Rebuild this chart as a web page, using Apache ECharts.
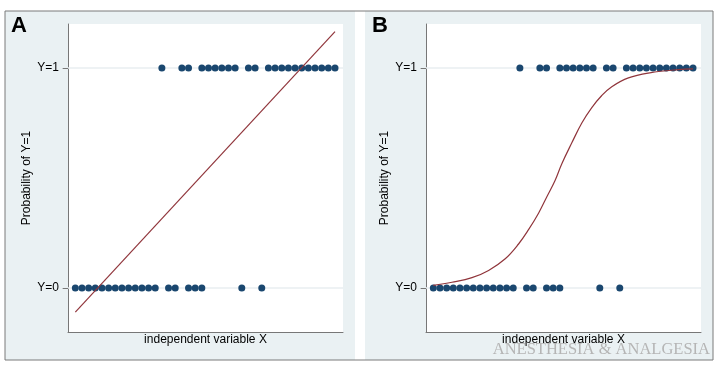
<!DOCTYPE html>
<html>
<head>
<meta charset="utf-8">
<script src="https://cdn.jsdelivr.net/npm/echarts@6/dist/echarts.min.js"></script>
<style>
html,body{margin:0;padding:0;background:#fff;}
#c{width:724px;height:373px;}
</style>
</head>
<body>
<div id="c"></div>
<script>
var xY0 = [1,2,3,4,5,6,7,8,9,10,11,12,13,15,16,18,19,20,26,29];
var xY1 = [14,17,18,20,21,22,23,24,25,27,28,30,31,32,33,34,35,36,37,38,39,40];
// Panel A: linear probability fit (endpoints)
var linX = [1, 40];
var linY = [-0.11, 1.165];
// Panel B: logistic fit curve
var logX = [1, 3.8, 6.8, 9.3, 11.8, 13.8, 15.3, 16.8, 18.05, 19.3, 20.3, 21.8, 23.3, 24.8, 26.3, 27.8, 30.3, 33.5, 37.8, 40];
var logY = [0.012, 0.026, 0.047, 0.08, 0.133, 0.2, 0.265, 0.34, 0.415, 0.49, 0.565, 0.66, 0.75, 0.82, 0.875, 0.915, 0.955, 0.978, 0.993, 0.996];
var yTicks = [0, 1];
var yTickLabels = ['Y=0', 'Y=1'];
var xTitle = 'independent variable X';
var yTitle = 'Probability of Y=1';

function pairs(xs, ys) { return xs.map(function (x, i) { return [x, ys[i]]; }); }
function level(xs, v) { return xs.map(function (x) { return [x, v]; }); }

var FONT = 'Liberation Sans, Arial, Helvetica, sans-serif';
var NAVY = '#1a476f';
var MAROON = '#90353b';
var AXIS = '#777777';

function xAxisCfg(idx) {
  return {
    gridIndex: idx, type: 'value', min: -0.1, max: 41.2,
    name: xTitle, nameLocation: 'middle', nameGap: 2,
    nameTextStyle: { fontFamily: FONT, fontSize: 12, color: '#000', verticalAlign: 'top' },
    axisLine: { show: true, onZero: false, lineStyle: { color: AXIS, width: 1 } },
    axisTick: { show: false }, axisLabel: { show: false }, splitLine: { show: false }
  };
}
function yAxisCfg(idx) {
  return {
    gridIndex: idx, type: 'value', min: -0.2, max: 1.2, interval: 0.2,
    name: yTitle, nameLocation: 'middle', nameGap: 35,
    nameTextStyle: { fontFamily: FONT, fontSize: 12, color: '#000' },
    axisLine: { show: true, lineStyle: { color: AXIS, width: 1 } },
    axisTick: { show: true, length: 6, customValues: yTicks, lineStyle: { color: AXIS, width: 1 } },
    axisLabel: {
      show: true, customValues: yTicks, margin: 9, fontFamily: FONT, fontSize: 12, color: '#000',
      formatter: function (v) { var i = yTicks.indexOf(Math.round(v * 1000) / 1000); return i >= 0 ? yTickLabels[i] : ''; }
    },
    splitLine: { show: false }
  };
}
function gridLines(idx) {
  return {
    type: 'line', xAxisIndex: idx, yAxisIndex: idx, data: [], silent: true,
    markLine: {
      silent: true, symbol: 'none', label: { show: false },
      lineStyle: { color: '#e9eef1', width: 1.5, type: 'solid' },
      data: yTicks.map(function (v) { return { yAxis: v }; })
    },
    z: 0
  };
}
function dots(idx, xs, v) {
  return {
    type: 'scatter', xAxisIndex: idx, yAxisIndex: idx, data: level(xs, v),
    symbol: 'circle', symbolSize: 7, itemStyle: { color: NAVY, opacity: 1 }, z: 5, silent: true
  };
}

var chart = echarts.init(document.getElementById('c'), null, { renderer: 'canvas' });
chart.setOption({
  animation: false,
  backgroundColor: '#ffffff',
  graphic: [
    { type: 'rect', shape: { x: 5, y: 11, width: 350, height: 349 }, style: { fill: '#eaf1f3' }, z: -10 },
    { type: 'rect', shape: { x: 365, y: 11, width: 348, height: 349 }, style: { fill: '#eaf1f3' }, z: -10 },
    { type: 'rect', shape: { x: 5, y: 11, width: 708, height: 349 }, style: { fill: 'none', stroke: '#7a7a7a', lineWidth: 1 }, z: 10 },
    { type: 'text', left: 11, top: 15, style: { text: 'A', font: 'bold 22px ' + FONT, fill: '#000' }, z: 10 },
    { type: 'text', left: 372, top: 15, style: { text: 'B', font: 'bold 22px ' + FONT, fill: '#000' }, z: 10 },
    { type: 'text', right: 14, top: 341, style: { text: 'ANESTHESIA & ANALGESIA', font: '16.5px Liberation Serif, Times New Roman, serif', fill: '#b5b5b5' }, z: 10 }
  ],
  grid: [
    { left: 68, top: 24, width: 275, height: 308, show: true, backgroundColor: '#ffffff', borderWidth: 0 },
    { left: 426, top: 24, width: 275, height: 308, show: true, backgroundColor: '#ffffff', borderWidth: 0 }
  ],
  xAxis: [xAxisCfg(0), xAxisCfg(1)],
  yAxis: [yAxisCfg(0), yAxisCfg(1)],
  series: [
    gridLines(0), gridLines(1),
    dots(0, xY0, 0), dots(0, xY1, 1),
    dots(1, xY0, 0), dots(1, xY1, 1),
    { type: 'line', xAxisIndex: 0, yAxisIndex: 0, data: pairs(linX, linY), symbol: 'none',
      lineStyle: { color: MAROON, width: 1.2 }, z: 6, silent: true },
    { type: 'line', xAxisIndex: 1, yAxisIndex: 1, data: pairs(logX, logY), symbol: 'none', smooth: 0.4,
      lineStyle: { color: MAROON, width: 1.2 }, z: 6, silent: true }
  ]
});
</script>
</body>
</html>
